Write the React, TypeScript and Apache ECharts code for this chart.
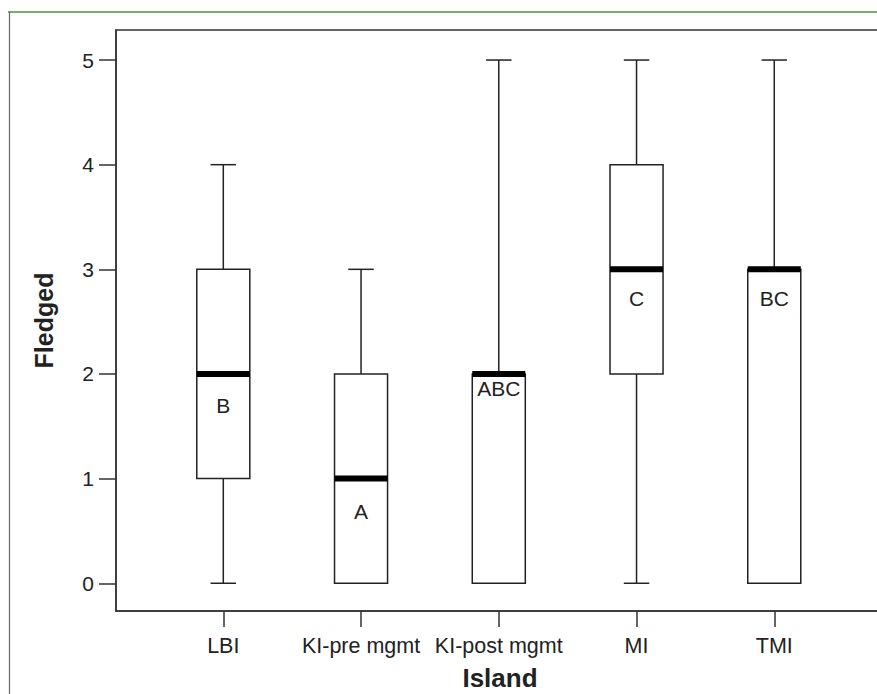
import React, { useEffect, useRef } from 'react';
import * as echarts from 'echarts';

const categories = ['LBI', 'KI-pre mgmt', 'KI-post mgmt', 'MI', 'TMI'];
const whiskerLow = [0, 0, 0, 0, 0];
const quartile1 = [1, 0, 0, 2, 0];
const medians = [2, 1, 2, 3, 3];
const quartile3 = [3, 2, 2, 4, 3];
const whiskerHigh = [4, 3, 5, 5, 5];
const groupLetters = ['B', 'A', 'ABC', 'C', 'BC'];
const letterY = [1.7, 0.69, 1.86, 2.72, 2.72];
const yTicks = [0, 1, 2, 3, 4, 5];
const xTicks = [0, 1, 2, 3, 4];

const FONT = '"Liberation Sans", Arial, Helvetica, sans-serif';
const INK = '#222';

export default function App() {
  const ref = useRef<HTMLDivElement>(null);
  useEffect(() => {
    if (!ref.current) return;
    const chart = echarts.init(ref.current, undefined, { renderer: 'svg' });
    const data = categories.map((_, i) => [
      i,
      whiskerLow[i],
      quartile1[i],
      medians[i],
      quartile3[i],
      whiskerHigh[i],
      letterY[i],
    ]);
    chart.setOption({
      animation: false,
      backgroundColor: '#fff',
      grid: {
        left: 116,
        top: 30,
        right: -20,
        bottom: 83,
        outerBoundsMode: 'none',
        containLabel: false,
        show: true,
        borderColor: '#333',
        borderWidth: 1.5,
        backgroundColor: 'transparent',
      },
      xAxis: {
        type: 'value',
        min: -0.779,
        max: 4.891,
        name: 'Island',
        nameLocation: 'middle',
        nameGap: 54,
        nameTextStyle: {
          fontFamily: FONT,
          fontWeight: 'bold',
          fontSize: 26,
          color: INK,
          padding: [0, 13, 0, 0],
        },
        axisLine: { show: true, onZero: false, lineStyle: { color: '#333', width: 1.5 } },
        axisTick: {
          show: true,
          customValues: xTicks,
          length: 16,
          lineStyle: { color: '#333', width: 1.5 },
        },
        axisLabel: {
          customValues: xTicks,
          formatter: (v: number) => categories[Math.round(v)] ?? '',
          fontFamily: FONT,
          fontSize: 21.5,
          color: INK,
          margin: 24,
        },
        splitLine: { show: false },
      },
      yAxis: {
        type: 'value',
        min: -0.265,
        max: 5.287,
        name: 'Fledged',
        nameLocation: 'middle',
        nameGap: 60,
        nameRotate: 90,
        nameTextStyle: {
          fontFamily: FONT,
          fontWeight: 'bold',
          fontSize: 25,
          color: INK,
        },
        axisLine: { show: true, onZero: false, lineStyle: { color: '#333', width: 1.5 } },
        axisTick: {
          show: true,
          customValues: yTicks,
          length: 17,
          lineStyle: { color: '#333', width: 1.5 },
        },
        axisLabel: {
          customValues: yTicks,
          fontFamily: FONT,
          fontSize: 21,
          color: INK,
          margin: 22,
        },
        splitLine: { show: false },
      },
      graphic: [
        {
          type: 'line',
          shape: { x1: 8, y1: 12, x2: 877, y2: 12 },
          style: { stroke: '#4f8f3f', lineWidth: 1.5 },
          silent: true,
        },
        {
          type: 'line',
          shape: { x1: 9.5, y1: 12, x2: 9.5, y2: 694 },
          style: { stroke: '#666', lineWidth: 1.2 },
          silent: true,
        },
      ],
      series: [
        {
          type: 'custom',
          data,
          clip: false,
          encode: { x: 0, y: [1, 2, 3, 4, 5] },
          renderItem: (params: any, api: any) => {
            const i = api.value(0);
            const lo = api.value(1);
            const q1 = api.value(2);
            const med = api.value(3);
            const q3 = api.value(4);
            const hi = api.value(5);
            const ly = api.value(6);
            const unit = api.size([1, 0])[0];
            const boxW = unit * 0.385;
            const capW = unit * 0.185;
            const cx = api.coord([i, med])[0];
            const yLo = api.coord([i, lo])[1];
            const yQ1 = api.coord([i, q1])[1];
            const yMed = api.coord([i, med])[1];
            const yQ3 = api.coord([i, q3])[1];
            const yHi = api.coord([i, hi])[1];
            const lineStyle = { stroke: '#222', lineWidth: 1.5 };
            const children: any[] = [];
            if (hi > q3) {
              children.push({ type: 'line', shape: { x1: cx, y1: yQ3, x2: cx, y2: yHi }, style: lineStyle });
              children.push({ type: 'line', shape: { x1: cx - capW / 2, y1: yHi, x2: cx + capW / 2, y2: yHi }, style: lineStyle });
            }
            if (lo < q1) {
              children.push({ type: 'line', shape: { x1: cx, y1: yQ1, x2: cx, y2: yLo }, style: lineStyle });
              children.push({ type: 'line', shape: { x1: cx - capW / 2, y1: yLo, x2: cx + capW / 2, y2: yLo }, style: lineStyle });
            }
            children.push({
              type: 'rect',
              shape: { x: cx - boxW / 2, y: yQ3, width: boxW, height: yQ1 - yQ3 },
              style: { fill: '#fff', stroke: '#222', lineWidth: 1.5 },
            });
            children.push({
              type: 'rect',
              shape: { x: cx - boxW / 2, y: yMed - 3, width: boxW, height: 6 },
              style: { fill: '#000' },
            });
            children.push({
              type: 'text',
              style: {
                text: groupLetters[params.dataIndex],
                x: cx,
                y: api.coord([i, ly])[1],
                align: 'center',
                verticalAlign: 'middle',
                fontFamily: FONT,
                fontSize: 21,
                fill: INK,
              },
            });
            return { type: 'group', children };
          },
        },
      ],
    });
    return () => chart.dispose();
  }, []);
  return (
    <div
      ref={ref}
      style={{ position: 'fixed', left: 0, top: 0, width: 877, height: 694 }}
    />
  );
}
